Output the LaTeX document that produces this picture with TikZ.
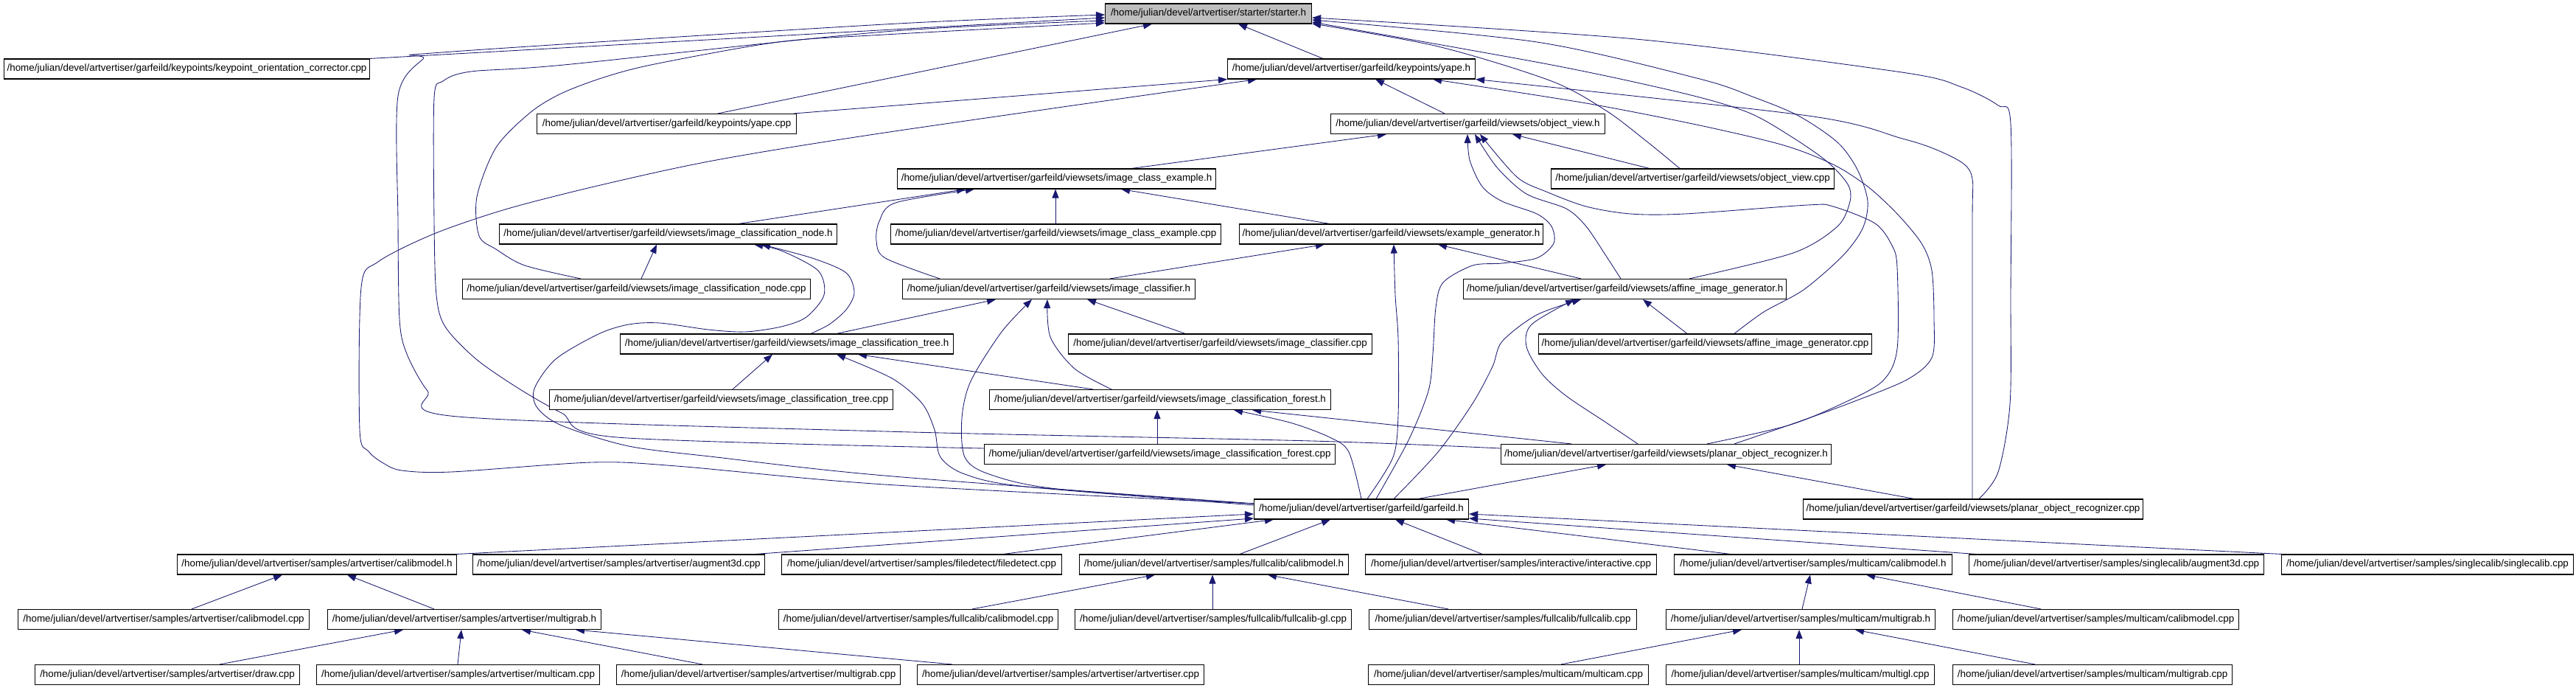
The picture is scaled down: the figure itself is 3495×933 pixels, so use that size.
\documentclass[tikz,border=0pt]{standalone}
\usepackage{fontspec}
\setmainfont{Liberation Sans}
\usetikzlibrary{arrows.meta}
\definecolor{mb}{RGB}{25,25,112}
\definecolor{gfill}{RGB}{191,191,191}
\pgfdeclarelayer{bg}
\pgfsetlayers{bg,main}
\newcommand\bx[6][]{\node[box,#1,anchor=west,minimum width={#4pt-#3pt}] (#2) at (#3,#5) {#6};}
\begin{document}
\begin{tikzpicture}[x=1pt,y=-1pt,
  box/.style={draw=black,line width=1.1pt,fill=white,inner sep=0pt,minimum height=27pt,font=\fontsize{13.4}{15}\selectfont},
  e/.style={draw=mb,line width=0.85pt,-{Triangle[length=12pt,width=9pt]}}]
\useasboundingbox (0,0) rectangle (3495,933);
% row 0-2
\bx[fill=gfill]{starter}{1499}{1779}{18.5}{/home/julian/devel/artvertiser/starter/starter.h}
\bx{kocc}{5}{501}{93.5}{/home/julian/devel/artvertiser/garfeild/keypoints/keypoint\_orientation\_corrector.cpp}
\bx{yapeh}{1665}{2001}{93.5}{/home/julian/devel/artvertiser/garfeild/keypoints/yape.h}
\bx{yapecpp}{728}{1080}{168}{/home/julian/devel/artvertiser/garfeild/keypoints/yape.cpp}
\bx{objview}{1805}{2177}{168}{/home/julian/devel/artvertiser/garfeild/viewsets/object\_view.h}
\bx{iceh}{1217}{1649}{242.5}{/home/julian/devel/artvertiser/garfeild/viewsets/image\_class\_example.h}
\bx{objviewcpp}{2104}{2488}{242.5}{/home/julian/devel/artvertiser/garfeild/viewsets/object\_view.cpp}
\bx{nodeh}{677}{1135}{317.5}{/home/julian/devel/artvertiser/garfeild/viewsets/image\_classification\_node.h}
\bx{icecpp}{1208}{1656}{317.5}{/home/julian/devel/artvertiser/garfeild/viewsets/image\_class\_example.cpp}
\bx{exgen}{1681}{2093}{317.5}{/home/julian/devel/artvertiser/garfeild/viewsets/example\_generator.h}
\bx{nodecpp}{627}{1099}{392}{/home/julian/devel/artvertiser/garfeild/viewsets/image\_classification\_node.cpp}
\bx{iclh}{1224}{1621}{392}{/home/julian/devel/artvertiser/garfeild/viewsets/image\_classifier.h}
\bx{affh}{1985}{2423}{392}{/home/julian/devel/artvertiser/garfeild/viewsets/affine\_image\_generator.h}
\bx{treeh}{841}{1293}{466.5}{/home/julian/devel/artvertiser/garfeild/viewsets/image\_classification\_tree.h}
\bx{iclcpp}{1449}{1861}{466.5}{/home/julian/devel/artvertiser/garfeild/viewsets/image\_classifier.cpp}
\bx{affcpp}{2087}{2539}{466.5}{/home/julian/devel/artvertiser/garfeild/viewsets/affine\_image\_generator.cpp}
\bx{treecpp}{745}{1211}{542}{/home/julian/devel/artvertiser/garfeild/viewsets/image\_classification\_tree.cpp}
\bx{foresth}{1342}{1805}{542}{/home/julian/devel/artvertiser/garfeild/viewsets/image\_classification\_forest.h}
\bx{forestcpp}{1335}{1811}{616}{/home/julian/devel/artvertiser/garfeild/viewsets/image\_classification\_forest.cpp}
\bx{planarh}{2036}{2484}{616}{/home/julian/devel/artvertiser/garfeild/viewsets/planar\_object\_recognizer.h}
\bx{garf}{1701}{1992}{690.5}{/home/julian/devel/artvertiser/garfeild/garfeild.h}
\bx{planarcpp}{2446}{2907}{690.5}{/home/julian/devel/artvertiser/garfeild/viewsets/planar\_object\_recognizer.cpp}
% row 10
\bx{avcalh}{240}{619}{765.5}{/home/julian/devel/artvertiser/samples/artvertiser/calibmodel.h}
\bx{avaug}{641}{1037}{765.5}{/home/julian/devel/artvertiser/samples/artvertiser/augment3d.cpp}
\bx{filedet}{1060}{1440}{765.5}{/home/julian/devel/artvertiser/samples/filedetect/filedetect.cpp}
\bx{fccalh}{1464}{1829}{765.5}{/home/julian/devel/artvertiser/samples/fullcalib/calibmodel.h}
\bx{inter}{1852}{2247}{765.5}{/home/julian/devel/artvertiser/samples/interactive/interactive.cpp}
\bx{mccalh}{2271}{2648}{765.5}{/home/julian/devel/artvertiser/samples/multicam/calibmodel.h}
\bx{scaug}{2671}{3071}{765.5}{/home/julian/devel/artvertiser/samples/singlecalib/augment3d.cpp}
\bx{single}{3095}{3491}{765.5}{/home/julian/devel/artvertiser/samples/singlecalib/singlecalib.cpp}
% row 11
\bx{avcalcpp}{24}{419}{840}{/home/julian/devel/artvertiser/samples/artvertiser/calibmodel.cpp}
\bx{avmgh}{444}{815}{840}{/home/julian/devel/artvertiser/samples/artvertiser/multigrab.h}
\bx{fccalcpp}{1056}{1435}{840}{/home/julian/devel/artvertiser/samples/fullcalib/calibmodel.cpp}
\bx{fcgl}{1458}{1833}{840}{/home/julian/devel/artvertiser/samples/fullcalib/fullcalib-gl.cpp}
\bx{fcmain}{1857}{2220}{840}{/home/julian/devel/artvertiser/samples/fullcalib/fullcalib.cpp}
\bx{mcmgh}{2260}{2625}{840}{/home/julian/devel/artvertiser/samples/multicam/multigrab.h}
\bx{mccalcpp}{2649}{3037}{840}{/home/julian/devel/artvertiser/samples/multicam/calibmodel.cpp}
% row 12
\bx{draw}{47}{406}{915}{/home/julian/devel/artvertiser/samples/artvertiser/draw.cpp}
\bx{avmc}{429}{813}{915}{/home/julian/devel/artvertiser/samples/artvertiser/multicam.cpp}
\bx{avmgcpp}{836}{1221}{915}{/home/julian/devel/artvertiser/samples/artvertiser/multigrab.cpp}
\bx{avmain}{1244}{1633}{915}{/home/julian/devel/artvertiser/samples/artvertiser/artvertiser.cpp}
\bx{mcmc}{1856}{2236}{915}{/home/julian/devel/artvertiser/samples/multicam/multicam.cpp}
\bx{mcgl}{2260}{2624}{915}{/home/julian/devel/artvertiser/samples/multicam/multigl.cpp}
\bx{mcmgcpp}{2649}{3028}{915}{/home/julian/devel/artvertiser/samples/multicam/multigrab.cpp}

\begin{pgfonlayer}{bg}
\fill[white] (0,0) rectangle (3495,933);
% straight edges, upper part
\draw[e] (kocc.north east) -- (starter.west |- 0,24);
\draw[e] (yapeh.north -| 1795,0) -- (starter.south -| 1680,0);
\draw[e] (yapecpp.north -| 974,0) -- (starter.south -| 1563,0);
\draw[e] (yapecpp.north -| 1077,0) -- (yapeh.south west);
\draw[e] (objview.north -| 1960,0) -- (yapeh.south -| 1866,0);
\draw[e] (objviewcpp.north -| 2238,0) -- (objview.south -| 2052,0);
\draw[e] (iceh.north -| 1535,0) -- (objview.south -| 1881,0);
\draw[e] (nodeh.north -| 1002,0) -- (iceh.south -| 1310,0);
\draw[e] (icecpp.north -| 1432,0) -- (iceh.south -| 1432,0);
\draw[e] (exgen.north -| 1804,0) -- (iceh.south -| 1521,0);
\draw[e] (iclh.north -| 1506,0) -- (exgen.south -| 1797,0);
\draw[e] (affh.north -| 2145,0) -- (exgen.south -| 1951,0);
\draw[e] (affcpp.north -| 2289,0) -- (affh.south -| 2229,0);
\draw[e] (nodecpp.north -| 870,0) -- (nodeh.south -| 891,0);
\draw[e] (iclcpp.north -| 1608,0) -- (iclh.south -| 1475,0);
\draw[e] (treeh.north -| 1135,0) -- (iclh.south -| 1351,0);
\draw[e] (treecpp.north -| 994,0) -- (treeh.south -| 1048,0);
\draw[e] (foresth.north -| 1483,0) -- (treeh.south -| 1164,0);
\draw[e] (forestcpp.north -| 1570,0) -- (foresth.south -| 1570,0);
\draw[e] (planarh.north -| 2132,0) -- (foresth.south -| 1699,0);
\draw[e] (garf.north -| 1924,0) -- (planarh.south -| 2179,0);
\draw[e] (planarcpp.north -| 2597,0) -- (planarh.south -| 2343,0);
% curved edges
\draw[e] plot[smooth] coordinates {(foresth.north -| 1508,0) (1458,500) (1425,457) (iclh.south -| 1421,0)};
\draw[e] plot[smooth] coordinates {(garf.west |- 0,683) (1434,663) (1342,643) (1309,620) (1305,567) (1317,517) (1359,450) (iclh.south -| 1400,0)};
\draw[e] plot[smooth] coordinates {(garf.west |- 0,685) (1392,660) (1309,643) (1276,620) (1268,583) (1251,547) (1210,513) (treeh.south -| 1135,0)};
\draw[e] plot[smooth] coordinates {(garf.west |- 0,683) (1200,645) (972,620) (853,605) (762,577) (729,553) (725,527) (754,487) (812,453) (853,440) (895,438) (961,447) (1011,450) (1060,443) (1094,430) (1118,400) (1110,367) (1060,340) (nodeh.south -| 1023,0)};
\draw[e] plot[smooth] coordinates {(treeh.north -| 1100,0) (1125,440) (1148,420) (1159,397) (1148,370) (1102,350) (nodeh.south -| 1033,0)};
\draw[e] plot[smooth] coordinates {(garf.west |- 0,683) (1200,657) (918,632) (803,627) (612,640) (545,638) (520,628) (500,612) (488,583) (490,390) (513,355) (589,317) (689,283) (819,250) (972,217) (1200,180) (yapeh.south -| 1705,0)};
\draw[e] plot[smooth] coordinates {(forestcpp.west |- 0,608) (837,593) (762,560) (704,527) (646,487) (604,443) (592,400) (589,300) (589,133) (601,110) (639,97) (765,88) (1200,43) (starter.west |- 0,28)};
\draw[e] plot[smooth] coordinates {(planarh.west |- 0,608) (1780,598) (1200,585) (621,565) (580,530) (552,480) (542,433) (540,300) (540,130) (574,80) (600,71) (1200,33) (starter.west |- 0,20)};
\draw[e] plot[smooth] coordinates {(nodecpp.north -| 788,0) (712,360) (673,338) (650,320) (647,267) (673,200) (719,153) (761,127) (819,105) (888,87) (1056,57) (1200,47) (starter.west |- 0,31)};
\draw[e] plot[smooth] coordinates {(iclh.north -| 1275,0) (1201,350) (1189,327) (1193,300) (1215,275) (iceh.south -| 1322,0)};
\draw[e] plot[smooth] coordinates {(garf.north -| 1855,0) (1890,620) (1897,563) (1897,460) (1893,400) (exgen.south -| 1891,0)};
\draw[e] plot[smooth] coordinates {(garf.north -| 1867,0) (1911,597) (1938,530) (1944,480) (1948,417) (1958,383) (1998,360) (2038,357) (2085,350) (2108,330) (2105,307) (2085,290) (2038,273) (2011,253) (1994,217) (objview.south -| 1991,0)};
\draw[e] plot[smooth] coordinates {(garf.north -| 1847,0) (1830,613) (1804,593) (1750,573) (foresth.south -| 1674,0)};
\draw[e] plot[smooth] coordinates {(garf.north -| 1891,0) (1951,613) (1998,547) (2025,497) (2038,463) (2085,427) (affh.south -| 2145,0)};
\draw[e] plot[smooth] coordinates {(planarh.north -| 2222,0) (2179,573) (2125,537) (2092,507) (2071,470) (2078,440) (affh.south -| 2136,0)};
\draw[e] plot[smooth] coordinates {(affh.north -| 2199,0) (2179,347) (2152,307) (2125,283) (2071,263) (2031,227) (objview.south -| 2001,0)};
\draw[e] plot[smooth] coordinates {(planarh.north -| 2316,0) (2426,577) (2500,547) (2554,517) (2574,473) (2574,363) (2567,333) (2544,303) (2487,280) (2453,278) (2286,290) (2212,290) (2152,280) (2098,260) (2058,240) (objview.south -| 2008,0)};
\draw[e] plot[smooth] coordinates {(planarh.north -| 2353,0) (2440,572) (2514,545) (2587,515) (2621,485) (2624,433) (2621,367) (2607,330) (2574,290) (2534,253) (2487,223) (2420,197) (2306,170) (2152,140) (yapeh.south -| 1944,0)};
\draw[e] plot[smooth] coordinates {(planarcpp.north -| 2676,0) (2676,600) (2676,300) (2676,243) (2664,222) (2627,203) (2581,188) (2453,157) (yapeh.south east)};
\draw[e] plot[smooth] coordinates {(planarcpp.north -| 2685,0) (2711,640) (2727,548) (2728,400) (2728,168) (2711,143) (2661,118) (2580,98) (2219,53) (starter.east |- 0,24)};
\draw[e] plot[smooth] coordinates {(objviewcpp.north -| 2279,0) (2232,190) (2179,150) (2105,110) (1951,63) (starter.east |- 0,32)};
\draw[e] plot[smooth] coordinates {(affh.north -| 2292,0) (2433,343) (2493,307) (2510,273) (2507,250) (2480,220) (2433,187) (2373,153) (2286,127) (2105,88) (starter.east |- 0,30)};
\draw[e] plot[smooth] coordinates {(affcpp.north -| 2353,0) (2393,423) (2447,393) (2500,347) (2527,310) (2534,273) (2520,230) (2493,193) (2440,157) (2380,132) (2306,107) (2085,57) (starter.east |- 0,27)};
% lower part
\draw[e] (avcalh.north east) -- (garf.west |- 0,697);
\draw[e] (avaug.north -| 1025,0) -- (garf.west |- 0,703);
\draw[e] (filedet.north -| 1361,0) -- (garf.south -| 1728,0);
\draw[e] (fccalh.north -| 1682,0) -- (garf.south -| 1805,0);
\draw[e] (inter.north -| 2011,0) -- (garf.south -| 1893,0);
\draw[e] (mccalh.north -| 2348,0) -- (garf.south -| 1962,0);
\draw[e] (scaug.north -| 2681,0) -- (garf.east |- 0,703);
\draw[e] (single.north west) -- (garf.east |- 0,697);
\draw[e] (avcalcpp.north -| 260,0) -- (avcalh.south -| 383,0);
\draw[e] (avmgh.north -| 589,0) -- (avcalh.south -| 471,0);
\draw[e] (draw.north -| 298,0) -- (avmgh.south -| 547,0);
\draw[e] (avmc.north -| 621,0) -- (avmgh.south -| 626,0);
\draw[e] (avmgcpp.north -| 953,0) -- (avmgh.south -| 708,0);
\draw[e] (avmain.north -| 1292,0) -- (avmgh.south -| 781,0);
\draw[e] (fccalcpp.north -| 1319,0) -- (fccalh.south -| 1567,0);
\draw[e] (fcgl.north -| 1645,0) -- (fccalh.south -| 1645,0);
\draw[e] (fcmain.north -| 1965,0) -- (fccalh.south -| 1720,0);
\draw[e] (mcmgh.north -| 2445,0) -- (mccalh.south -| 2456,0);
\draw[e] (mccalcpp.north -| 2769,0) -- (mccalh.south -| 2532,0);
\draw[e] (mcmc.north -| 2118,0) -- (mcmgh.south -| 2363,0);
\draw[e] (mcgl.north -| 2441,0) -- (mcmgh.south -| 2441,0);
\draw[e] (mcmgcpp.north -| 2761,0) -- (mcmgh.south -| 2517,0);
\end{pgfonlayer}
\end{tikzpicture}
\end{document}
